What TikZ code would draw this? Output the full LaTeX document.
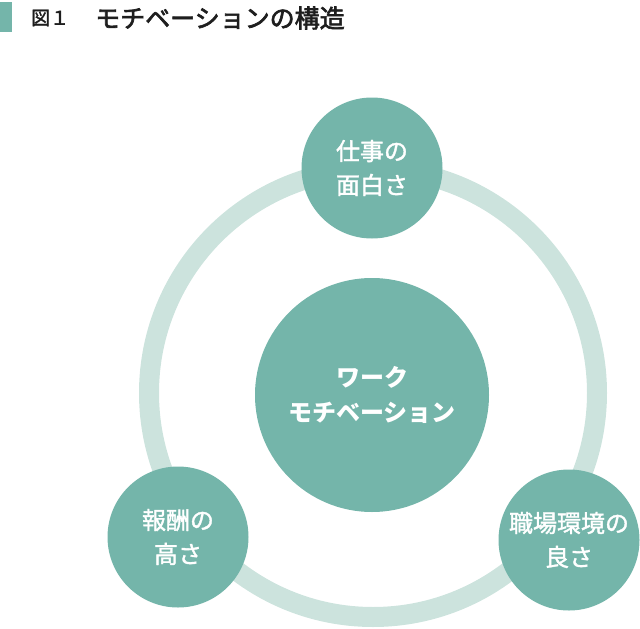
\documentclass[tikz,border=0pt]{standalone}
\usepackage{fontspec}
\setmainfont{Noto Sans CJK JP}
\newfontfamily\jpmed{Noto Sans CJK JP}[FakeBold=1.6]
\newfontfamily\jphead{Noto Sans CJK JP}[FakeBold=2.6]
\usetikzlibrary{positioning}
\definecolor{cCore}{HTML}{74B5AA}
\definecolor{cRing}{HTML}{CCE3DD}
\definecolor{cTitle}{HTML}{1E1E1E}
\tikzset{
  ring/.style={draw=cRing, line width=20pt},
  factor/.style={circle, fill=cCore, minimum size=141pt, inner sep=0pt,
    text=white, align=center, font=\jpmed\fontsize{24}{34}\selectfont},
  core/.style={circle, fill=cCore, minimum size=234pt, inner sep=0pt,
    text=white, align=center, font=\bfseries\fontsize{24}{35}\selectfont},
  titlebar/.style={fill=cCore, minimum width=12pt, minimum height=30pt, inner sep=0pt},
  titletext/.style={text=cTitle, inner sep=0pt, anchor=west},
}
\begin{document}
\begin{tikzpicture}[x=1pt, y=-1pt]

  \useasboundingbox (0,0) rectangle (640,629);

  % ----------------------------------------------------------------
  % Title
  % ----------------------------------------------------------------
  \node[titlebar] (bar) at (6,17) {};
  \node[titletext, font=\jpmed\fontsize{19}{22}\selectfont] (fignum) at (31,18) {図１};
  \node[titletext, font=\jphead\fontsize{25}{28}\selectfont] (title) at (95,18)
    {モチベーションの構造};

  % ----------------------------------------------------------------
  % Ring
  % ----------------------------------------------------------------
  \coordinate (ctr) at (373,393);
  \draw[ring] (ctr) circle (224);

  % ----------------------------------------------------------------
  % Core and factors
  % ----------------------------------------------------------------
  \node[core] (motiv) at (372,395) {ワーク\\モチベーション};

  \node[factor] (work)   at (372,168) {仕事の\\面白さ};
  \node[factor] (reward) at (178,537) {報酬の\\高さ};
  \node[factor] (place)  at (569,540) {職場環境の\\良さ};

\end{tikzpicture}
\end{document}
